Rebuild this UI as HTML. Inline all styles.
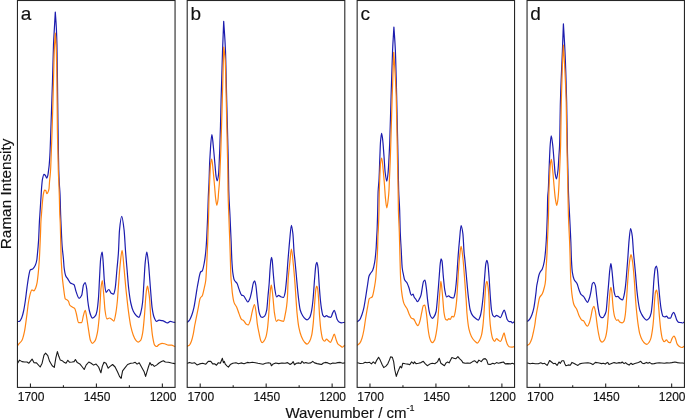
<!DOCTYPE html>
<html lang="en">
<head>
<meta charset="utf-8">
<title>Raman spectra</title>
<style>
html,body{margin:0;padding:0;background:#fff;}
body{width:685px;height:419px;overflow:hidden;font-family:"Liberation Sans",Arial,sans-serif;}
svg{display:block;}
</style>
</head>
<body>
<svg width="685" height="419" viewBox="0 0 685 419">
<rect width="685" height="419" fill="#fff"/>
<g fill="none" stroke-linejoin="round" stroke-linecap="round">
<g class="panel-a">
<path class="data" stroke="#1c1cae" stroke-width="1.2" d="M17.60 321.60 C18.23 321.50 18.87 321.48 19.50 321.30 C20.27 321.09 21.03 319.34 21.80 317.60 C22.40 316.24 23.00 313.72 23.60 311.00 C24.17 308.43 24.73 304.82 25.30 301.00 C25.87 297.18 26.43 291.67 27.00 287.60 C27.63 283.05 28.27 278.16 28.90 275.10 C29.33 273.00 29.77 270.34 30.20 270.00 C31.03 269.34 31.87 269.52 32.70 269.00 C33.53 268.48 34.37 267.29 35.20 265.60 C35.73 264.52 36.27 262.95 36.80 260.00 C36.93 259.26 37.07 257.72 37.20 256.40 C37.67 251.77 38.13 247.49 38.60 240.10 C38.87 235.88 39.13 226.83 39.40 222.00 C39.55 219.28 39.70 217.32 39.85 215.00 C40.20 209.59 40.55 204.34 40.90 198.90 C41.17 194.75 41.43 189.38 41.70 186.30 C41.97 183.22 42.23 180.31 42.50 179.00 C43.00 176.55 43.50 174.30 44.00 174.30 C44.47 174.30 44.93 174.95 45.40 175.50 C45.87 176.05 46.33 178.20 46.80 178.20 C47.13 178.20 47.47 176.81 47.80 175.50 C48.07 174.45 48.33 172.02 48.60 170.00 C48.80 168.49 49.00 167.08 49.20 165.00 C49.43 162.57 49.67 159.36 49.90 155.10 C50.20 149.62 50.50 139.37 50.80 131.00 C51.37 115.19 51.93 99.51 52.50 81.00 C52.83 70.11 53.17 53.21 53.50 45.00 C53.80 37.61 54.10 33.49 54.40 28.00 C54.70 22.51 55.00 17.33 55.30 12.00 C55.65 17.33 56.00 20.87 56.35 28.00 C56.55 32.07 56.75 36.83 56.95 45.00 C57.12 51.81 57.28 67.35 57.45 80.00 C57.65 95.18 57.85 115.85 58.05 130.00 C58.18 139.43 58.32 147.63 58.45 155.00 C58.55 160.53 58.65 166.66 58.75 170.00 C58.92 175.57 59.08 178.72 59.25 182.00 C59.52 187.25 59.78 189.08 60.05 195.00 C60.25 199.44 60.45 209.62 60.65 215.00 C60.75 217.69 60.85 219.80 60.95 222.00 C61.35 230.81 61.75 241.12 62.15 246.40 C62.58 252.12 63.02 254.09 63.45 259.00 C63.67 261.45 63.88 265.80 64.10 267.50 C64.63 271.68 65.17 274.45 65.70 275.70 C66.40 277.35 67.10 277.72 67.80 278.80 C68.67 280.13 69.53 282.36 70.40 283.00 C71.63 283.91 72.87 283.61 74.10 284.70 C74.73 285.26 75.37 289.64 76.00 291.40 C77.03 294.27 78.07 298.30 79.10 298.30 C79.97 298.30 80.83 296.97 81.70 295.20 C82.30 293.97 82.90 286.49 83.50 285.10 C84.07 283.79 84.63 282.60 85.20 282.60 C85.70 282.60 86.20 285.79 86.70 288.90 C87.07 291.18 87.43 297.99 87.80 301.00 C88.27 304.83 88.73 307.92 89.20 310.00 C89.83 312.82 90.47 314.98 91.10 316.30 C91.50 317.14 91.90 318.20 92.30 318.20 C93.37 318.20 94.43 317.15 95.50 315.70 C95.97 315.07 96.43 313.42 96.90 311.30 C97.43 308.88 97.97 304.14 98.50 297.70 C98.83 293.67 99.17 284.76 99.50 278.80 C99.90 271.65 100.30 261.25 100.70 258.50 C101.20 255.06 101.70 252.20 102.20 252.20 C102.53 252.20 102.87 258.46 103.20 262.60 C103.60 267.57 104.00 277.51 104.40 281.40 C104.93 286.59 105.47 292.40 106.00 292.40 C106.93 292.40 107.87 289.50 108.80 289.50 C109.63 289.50 110.47 292.79 111.30 293.30 C112.07 293.77 112.83 294.20 113.60 294.20 C114.10 294.20 114.60 291.50 115.10 288.90 C115.73 285.61 116.37 275.73 117.00 268.80 C117.47 263.70 117.93 259.91 118.40 253.00 C118.77 247.57 119.13 233.86 119.50 230.10 C120.23 222.58 120.97 216.30 121.70 216.30 C122.50 216.30 123.30 223.27 124.10 230.10 C124.60 234.37 125.10 245.42 125.60 252.00 C126.07 258.14 126.53 263.24 127.00 268.80 C127.53 275.15 128.07 282.97 128.60 287.70 C129.33 294.21 130.07 299.68 130.80 303.00 C131.63 306.77 132.47 309.62 133.30 311.30 C134.33 313.38 135.37 314.80 136.40 315.70 C137.23 316.43 138.07 317.30 138.90 317.30 C139.53 317.30 140.17 314.80 140.80 312.60 C141.40 310.51 142.00 307.29 142.60 302.20 C143.07 298.24 143.53 288.52 144.00 281.40 C144.40 275.30 144.80 266.35 145.20 262.60 C145.73 257.60 146.27 252.20 146.80 252.20 C147.33 252.20 147.87 258.02 148.40 262.60 C148.90 266.89 149.40 275.07 149.90 281.40 C150.33 286.88 150.77 292.99 151.20 298.00 C151.50 301.47 151.80 305.48 152.10 307.60 C152.73 312.08 153.37 315.32 154.00 317.00 C154.83 319.21 155.67 321.40 156.50 321.40 C157.33 321.40 158.17 320.10 159.00 320.10 C160.07 320.10 161.13 320.43 162.20 320.70 C163.03 320.91 163.87 321.25 164.70 321.60 C165.53 321.95 166.37 322.90 167.20 322.90 C168.23 322.90 169.27 321.40 170.30 321.40 C171.13 321.40 171.97 321.81 172.80 322.00 C173.43 322.14 174.07 322.27 174.70 322.40"/>
<path class="fit" stroke="#ff8412" stroke-width="1.2" d="M17.60 345.60 C18.03 345.03 18.47 344.44 18.90 343.90 C19.93 342.60 20.97 342.08 22.00 340.20 C22.83 338.69 23.67 335.31 24.50 331.40 C25.33 327.49 26.17 320.02 27.00 313.80 C27.50 310.07 28.00 304.98 28.50 302.00 C29.07 298.62 29.63 295.78 30.20 293.90 C30.73 292.13 31.27 289.80 31.80 289.80 C32.50 289.80 33.20 290.80 33.90 290.80 C34.53 290.80 35.17 289.12 35.80 287.60 C36.23 286.56 36.67 284.89 37.10 282.60 C37.50 280.48 37.90 276.50 38.30 272.60 C38.47 270.97 38.63 269.07 38.80 267.00 C38.97 264.93 39.13 262.65 39.30 260.00 C39.43 257.88 39.57 255.41 39.70 252.70 C39.97 247.29 40.23 240.88 40.50 233.80 C40.63 230.26 40.77 224.51 40.90 222.00 C41.10 218.23 41.30 216.60 41.50 214.00 C41.83 209.67 42.17 204.73 42.50 201.40 C42.80 198.40 43.10 195.31 43.40 193.90 C43.80 192.02 44.20 190.10 44.60 190.10 C45.00 190.10 45.40 190.25 45.80 190.50 C46.13 190.71 46.47 193.60 46.80 193.60 C47.13 193.60 47.47 193.03 47.80 192.50 C48.20 191.86 48.60 191.00 49.00 188.80 C49.17 187.88 49.33 183.94 49.50 182.00 C49.73 179.29 49.97 177.80 50.20 175.00 C50.37 173.00 50.53 170.79 50.70 167.70 C50.87 164.61 51.03 159.40 51.20 155.00 C51.50 147.07 51.80 139.09 52.10 130.00 C52.40 120.91 52.70 111.00 53.00 100.00 C53.17 93.89 53.33 86.47 53.50 80.00 C53.77 69.65 54.03 56.28 54.30 50.00 C54.63 42.15 54.97 38.80 55.30 33.20 C55.63 38.80 55.97 41.25 56.30 50.00 C56.50 55.25 56.70 66.53 56.90 80.00 C57.07 91.22 57.23 120.07 57.40 130.00 C57.60 141.91 57.80 145.82 58.00 155.00 C58.10 159.59 58.20 166.66 58.30 170.00 C58.47 175.57 58.63 177.84 58.80 182.00 C58.97 186.16 59.13 189.75 59.30 195.00 C59.47 200.25 59.63 211.00 59.80 215.00 C59.93 218.20 60.07 218.90 60.20 222.00 C60.37 225.88 60.53 233.68 60.70 240.00 C60.87 246.32 61.03 256.00 61.20 260.00 C61.33 263.20 61.47 264.59 61.60 267.00 C61.70 268.81 61.80 271.25 61.90 272.60 C62.43 279.80 62.97 283.57 63.50 287.60 C64.10 292.13 64.70 298.31 65.30 298.90 C65.93 299.52 66.57 299.44 67.20 299.90 C67.63 300.21 68.07 300.60 68.50 301.30 C68.90 301.94 69.30 304.45 69.70 305.00 C70.53 306.14 71.37 306.42 72.20 307.00 C73.07 307.60 73.93 307.64 74.80 308.60 C75.30 309.15 75.80 311.69 76.30 313.50 C77.03 316.16 77.77 322.60 78.50 322.60 C79.57 322.60 80.63 322.60 81.70 322.60 C82.30 322.60 82.90 317.05 83.50 315.10 C84.10 313.15 84.70 310.30 85.30 310.30 C85.77 310.30 86.23 314.90 86.70 317.60 C87.33 321.26 87.97 326.27 88.60 330.10 C89.20 333.73 89.80 338.68 90.40 340.20 C91.03 341.81 91.67 343.30 92.30 343.30 C93.13 343.30 93.97 342.31 94.80 341.20 C95.67 340.04 96.53 336.86 97.40 332.60 C98.03 329.49 98.67 323.38 99.30 316.00 C99.63 312.11 99.97 305.53 100.30 300.00 C100.53 296.13 100.77 290.12 101.00 288.00 C101.43 284.06 101.87 280.50 102.30 280.50 C102.67 280.50 103.03 287.16 103.40 291.00 C103.63 293.44 103.87 296.24 104.10 299.00 C104.40 302.55 104.70 307.96 105.00 310.10 C105.63 314.61 106.27 318.90 106.90 318.90 C107.73 318.90 108.57 318.00 109.40 318.00 C110.23 318.00 111.07 318.91 111.90 319.50 C112.53 319.95 113.17 321.10 113.80 321.10 C114.43 321.10 115.07 317.08 115.70 313.80 C116.23 311.04 116.77 306.84 117.30 301.50 C117.63 298.16 117.97 292.38 118.30 288.00 C118.90 280.12 119.50 270.74 120.10 265.10 C120.77 258.83 121.43 250.30 122.10 250.30 C122.77 250.30 123.43 262.05 124.10 268.80 C124.67 274.54 125.23 282.00 125.80 287.70 C126.13 291.05 126.47 293.99 126.80 297.00 C127.30 301.51 127.80 306.32 128.30 310.10 C129.13 316.40 129.97 322.59 130.80 326.40 C131.63 330.21 132.47 333.07 133.30 335.20 C134.13 337.33 134.97 339.28 135.80 340.20 C136.63 341.12 137.47 342.10 138.30 342.10 C139.13 342.10 139.97 341.30 140.80 340.20 C141.43 339.37 142.07 336.28 142.70 332.70 C143.33 329.12 143.97 321.37 144.60 313.80 C144.97 309.42 145.33 302.22 145.70 298.00 C145.97 294.93 146.23 291.74 146.50 290.20 C146.83 288.28 147.17 286.20 147.50 286.20 C147.93 286.20 148.37 289.98 148.80 292.70 C149.10 294.58 149.40 296.77 149.70 300.00 C150.10 304.30 150.50 315.22 150.90 320.10 C151.53 327.82 152.17 334.07 152.80 337.70 C153.40 341.14 154.00 344.49 154.60 345.20 C155.23 345.95 155.87 346.50 156.50 346.50 C157.33 346.50 158.17 345.05 159.00 344.60 C160.07 344.03 161.13 343.30 162.20 343.30 C163.23 343.30 164.27 343.71 165.30 344.00 C166.33 344.29 167.37 345.20 168.40 345.20 C169.47 345.20 170.53 345.20 171.60 345.20 C172.63 345.20 173.67 346.07 174.70 346.50"/>
<path class="residual" stroke="#1a1a1a" stroke-width="1.1" d="M17.6 363.2 L19.5 360.1 L22.0 361.6 L24.5 362.0 L27.0 362.0 L28.9 363.2 L32.1 359.1 L33.9 362.6 L36.5 362.9 L40.2 367.0 L42.1 363.2 L44.0 355.1 L45.6 353.2 L47.8 355.7 L49.6 361.3 L52.2 365.7 L54.3 367.4 L55.9 357.6 L57.4 351.6 L58.8 356.3 L60.3 360.1 L62.2 360.7 L64.1 362.3 L66.0 363.2 L67.8 360.3 L69.7 362.3 L72.2 362.0 L74.1 361.6 L75.4 359.5 L77.3 362.6 L79.8 363.9 L82.3 367.0 L84.2 369.5 L86.1 365.1 L88.8 362.0 L91.1 363.2 L93.6 365.1 L96.1 364.1 L98.6 367.0 L100.9 372.8 L102.3 366.4 L104.0 362.3 L106.0 363.2 L108.2 368.2 L110.1 366.4 L112.6 364.5 L115.1 367.0 L117.6 372.0 L119.5 376.4 L121.1 378.3 L122.6 370.8 L125.1 367.6 L127.6 364.5 L130.8 363.2 L133.3 363.0 L135.2 362.3 L137.1 364.1 L139.2 362.8 L141.5 367.0 L144.0 371.4 L145.6 376.4 L147.1 371.4 L148.4 367.0 L149.9 362.6 L151.5 365.1 L152.7 364.5 L154.3 366.4 L156.5 365.1 L159.0 363.0 L161.5 361.6 L163.4 360.7 L165.3 362.0 L168.4 362.3 L171.6 363.0 L174.7 363.6"/>
</g>
<g class="panel-b">
<path class="data" stroke="#1c1cae" stroke-width="1.2" d="M187.60 322.10 C188.23 321.47 188.87 321.07 189.50 320.20 C190.33 319.06 191.17 316.86 192.00 314.50 C192.63 312.71 193.27 310.43 193.90 307.60 C194.73 303.87 195.57 297.71 196.40 292.60 C196.70 290.76 197.00 288.74 197.30 287.00 C197.73 284.49 198.17 282.27 198.60 280.00 C198.83 278.78 199.07 277.37 199.30 276.40 C199.73 274.59 200.17 272.52 200.60 272.00 C201.17 271.32 201.73 271.47 202.30 270.80 C202.97 270.01 203.63 266.19 204.30 262.60 C204.80 259.91 205.30 256.37 205.80 251.30 C206.07 248.60 206.33 244.58 206.60 240.00 C206.97 233.70 207.33 224.72 207.70 215.10 C207.90 209.85 208.10 202.19 208.30 197.00 C208.40 194.41 208.50 192.06 208.60 190.00 C208.73 187.25 208.87 185.73 209.00 182.70 C209.20 178.16 209.40 168.32 209.60 163.80 C209.87 157.77 210.13 154.51 210.40 150.00 C210.50 148.31 210.60 146.22 210.70 145.00 C211.10 140.10 211.50 134.50 211.90 134.50 C212.33 134.50 212.77 140.98 213.20 145.00 C213.77 150.25 214.33 157.70 214.90 163.80 C215.30 168.10 215.70 173.95 216.10 176.40 C216.43 178.44 216.77 180.80 217.10 180.80 C217.60 180.80 218.10 177.94 218.60 173.90 C218.83 172.01 219.07 165.10 219.30 160.00 C219.47 156.36 219.63 152.58 219.80 148.00 C220.03 141.58 220.27 133.60 220.50 125.00 C220.70 117.63 220.90 107.62 221.10 100.00 C221.57 82.21 222.03 65.62 222.50 52.00 C222.90 40.32 223.30 31.53 223.70 21.30 C224.28 30.87 224.87 36.15 225.45 50.00 C225.88 60.29 226.32 85.01 226.75 102.00 C227.18 118.99 227.62 133.78 228.05 152.00 C228.18 157.61 228.32 162.77 228.45 170.00 C228.55 175.42 228.65 186.44 228.75 190.00 C229.15 204.22 229.55 206.44 229.95 215.10 C230.35 223.76 230.75 232.33 231.15 242.00 C231.38 247.64 231.62 255.94 231.85 260.10 C232.17 265.74 232.48 270.36 232.80 272.70 C233.30 276.39 233.80 278.94 234.30 280.00 C235.23 281.97 236.17 281.82 237.10 283.50 C237.77 284.70 238.43 287.68 239.10 289.40 C239.93 291.55 240.77 294.65 241.60 295.10 C242.23 295.44 242.87 295.38 243.50 295.70 C244.33 296.12 245.17 298.33 246.00 299.50 C246.63 300.39 247.27 302.00 247.90 302.00 C248.53 302.00 249.17 300.30 249.80 298.80 C250.43 297.30 251.07 294.14 251.70 291.30 C252.23 288.91 252.77 284.43 253.30 283.10 C253.73 282.02 254.17 280.90 254.60 280.90 C255.00 280.90 255.40 283.04 255.80 285.00 C256.30 287.45 256.80 294.72 257.30 298.80 C257.93 303.97 258.57 310.38 259.20 312.60 C259.83 314.82 260.47 316.65 261.10 317.00 C261.50 317.22 261.90 317.40 262.30 317.40 C263.13 317.40 263.97 316.71 264.80 315.80 C265.43 315.11 266.07 313.19 266.70 310.10 C267.13 307.99 267.57 300.70 268.00 296.00 C268.40 291.66 268.80 288.27 269.20 283.00 C269.47 279.49 269.73 273.55 270.00 270.00 C270.27 266.45 270.53 262.87 270.80 261.00 C271.03 259.37 271.27 257.40 271.50 257.40 C271.73 257.40 271.97 258.70 272.20 260.00 C272.53 261.85 272.87 268.81 273.20 272.60 C273.73 278.66 274.27 285.55 274.80 288.90 C275.40 292.67 276.00 297.00 276.60 297.00 C277.27 297.00 277.93 295.40 278.60 295.40 C279.30 295.40 280.00 296.48 280.70 296.70 C281.67 297.01 282.63 297.30 283.60 297.30 C284.10 297.30 284.60 294.94 285.10 292.60 C285.60 290.26 286.10 284.27 286.60 278.80 C287.07 273.69 287.53 265.92 288.00 260.00 C288.20 257.46 288.40 255.07 288.60 252.70 C288.97 248.36 289.33 243.76 289.70 240.10 C290.27 234.44 290.83 225.30 291.40 225.30 C291.90 225.30 292.40 229.56 292.90 233.80 C293.30 237.19 293.70 248.16 294.10 252.70 C294.37 255.73 294.63 257.38 294.90 260.00 C295.40 264.92 295.90 270.94 296.40 276.30 C297.03 283.09 297.67 290.99 298.30 296.40 C298.93 301.81 299.57 307.76 300.20 310.00 C301.03 312.95 301.87 314.36 302.70 315.70 C303.53 317.04 304.37 318.20 305.20 318.80 C305.83 319.26 306.47 319.80 307.10 319.80 C307.93 319.80 308.77 318.79 309.60 317.60 C310.23 316.70 310.87 314.26 311.50 311.30 C312.00 308.96 312.50 304.79 313.00 300.00 C313.53 294.89 314.07 285.06 314.60 278.80 C315.03 273.71 315.47 266.82 315.90 265.00 C316.23 263.60 316.57 262.30 316.90 262.30 C317.27 262.30 317.63 264.90 318.00 267.50 C318.40 270.34 318.80 279.76 319.20 285.10 C319.63 290.89 320.07 296.91 320.50 301.00 C320.83 304.14 321.17 306.79 321.50 308.80 C321.93 311.42 322.37 314.36 322.80 315.10 C323.40 316.13 324.00 316.90 324.60 316.90 C325.23 316.90 325.87 315.70 326.50 315.70 C327.13 315.70 327.77 316.73 328.40 316.90 C329.23 317.12 330.07 317.30 330.90 317.30 C331.53 317.30 332.17 313.79 332.80 312.60 C333.30 311.66 333.80 310.30 334.30 310.30 C334.73 310.30 335.17 312.48 335.60 313.80 C336.13 315.43 336.67 318.46 337.20 319.50 C337.83 320.73 338.47 321.66 339.10 322.00 C339.93 322.44 340.77 322.80 341.60 322.80 C342.57 322.80 343.53 322.47 344.50 322.30"/>
<path class="fit" stroke="#ff8412" stroke-width="1.2" d="M187.60 346.10 C188.23 345.77 188.87 345.63 189.50 345.10 C190.13 344.57 190.77 342.98 191.40 341.30 C192.03 339.62 192.67 336.81 193.30 333.80 C193.80 331.42 194.30 327.62 194.80 325.00 C195.13 323.25 195.47 321.83 195.80 320.20 C196.63 316.12 197.47 311.76 198.30 307.60 C198.93 304.44 199.57 299.43 200.20 298.20 C200.90 296.84 201.60 296.98 202.30 295.70 C203.00 294.42 203.70 290.50 204.40 287.30 C204.87 285.17 205.33 283.88 205.80 280.00 C205.97 278.62 206.13 275.52 206.30 272.70 C206.60 267.62 206.90 260.50 207.20 253.80 C207.37 250.08 207.53 246.35 207.70 242.00 C208.00 234.16 208.30 226.08 208.60 215.00 C208.73 210.07 208.87 201.24 209.00 197.00 C209.20 190.64 209.40 186.96 209.60 182.70 C209.93 175.60 210.27 166.15 210.60 163.80 C210.97 161.22 211.33 159.10 211.70 159.10 C212.17 159.10 212.63 165.85 213.10 170.10 C213.60 174.65 214.10 180.78 214.60 186.40 C214.93 190.15 215.27 195.36 215.60 198.00 C216.00 201.17 216.40 205.10 216.80 205.10 C217.23 205.10 217.67 202.13 218.10 198.80 C218.27 197.52 218.43 194.10 218.60 192.00 C218.87 188.64 219.13 186.73 219.40 182.70 C219.70 178.17 220.00 170.03 220.30 163.00 C220.50 158.31 220.70 153.66 220.90 148.00 C221.37 134.78 221.83 116.79 222.30 100.00 C222.77 83.21 223.23 64.67 223.70 47.00 C224.20 51.33 224.70 52.70 225.20 60.00 C225.57 65.35 225.93 86.78 226.30 102.00 C226.67 117.22 227.03 135.43 227.40 152.00 C227.53 158.03 227.67 161.36 227.80 170.00 C227.87 174.32 227.93 186.45 228.00 190.00 C228.27 204.18 228.53 207.25 228.80 215.00 C229.13 224.68 229.47 232.54 229.80 242.00 C229.93 245.78 230.07 249.71 230.20 253.80 C230.43 260.96 230.67 272.29 230.90 276.40 C231.20 281.68 231.50 283.56 231.80 287.00 C231.97 288.91 232.13 291.28 232.30 292.60 C232.90 297.36 233.50 300.95 234.10 302.60 C234.93 304.89 235.77 305.21 236.60 307.00 C237.43 308.79 238.27 311.84 239.10 313.90 C239.93 315.96 240.77 318.87 241.60 319.50 C242.23 319.98 242.87 319.96 243.50 320.40 C244.33 320.98 245.17 323.35 246.00 323.90 C246.77 324.40 247.53 324.90 248.30 324.90 C249.00 324.90 249.70 322.32 250.40 320.20 C251.03 318.28 251.67 313.78 252.30 311.40 C253.03 308.64 253.77 304.50 254.50 304.50 C255.03 304.50 255.57 309.04 256.10 312.60 C256.50 315.27 256.90 321.10 257.30 323.90 C257.60 326.00 257.90 327.44 258.20 329.00 C258.53 330.74 258.87 332.28 259.20 333.80 C259.73 336.23 260.27 339.56 260.80 340.70 C261.23 341.63 261.67 342.60 262.10 342.60 C262.80 342.60 263.50 341.62 264.20 340.70 C264.83 339.87 265.47 338.40 266.10 336.30 C266.50 334.98 266.90 332.77 267.30 330.00 C267.67 327.46 268.03 323.42 268.40 319.00 C268.83 313.78 269.27 305.02 269.70 299.00 C269.93 295.76 270.17 291.82 270.40 290.00 C270.70 287.67 271.00 285.10 271.30 285.10 C271.67 285.10 272.03 289.14 272.40 292.00 C272.67 294.08 272.93 297.27 273.20 300.00 C273.60 304.09 274.00 309.97 274.40 312.60 C275.03 316.76 275.67 321.30 276.30 321.30 C276.93 321.30 277.57 319.80 278.20 319.80 C279.03 319.80 279.87 320.48 280.70 320.70 C281.67 320.96 282.63 321.30 283.60 321.30 C284.10 321.30 284.60 317.52 285.10 315.10 C285.60 312.68 286.10 310.16 286.60 306.30 C286.87 304.24 287.13 301.86 287.40 298.00 C287.67 294.14 287.93 282.73 288.20 278.80 C288.70 271.43 289.20 268.44 289.70 263.80 C290.27 258.54 290.83 249.10 291.40 249.10 C292.07 249.10 292.73 258.63 293.40 265.00 C293.97 270.42 294.53 277.50 295.10 285.10 C295.43 289.57 295.77 295.40 296.10 300.20 C296.40 304.52 296.70 309.49 297.00 312.60 C297.63 319.17 298.27 324.46 298.90 327.60 C299.73 331.73 300.57 334.36 301.40 336.40 C302.43 338.92 303.47 340.95 304.50 342.10 C305.37 343.06 306.23 344.20 307.10 344.20 C307.93 344.20 308.77 342.77 309.60 341.40 C310.30 340.25 311.00 338.27 311.70 335.20 C312.23 332.86 312.77 328.07 313.30 322.60 C313.73 318.15 314.17 309.56 314.60 304.00 C315.03 298.44 315.47 291.14 315.90 288.90 C316.17 287.52 316.43 286.10 316.70 286.10 C317.03 286.10 317.37 287.38 317.70 288.90 C318.03 290.42 318.37 296.27 318.70 301.00 C319.00 305.25 319.30 312.32 319.60 316.30 C320.03 322.04 320.47 327.11 320.90 330.10 C321.53 334.47 322.17 338.50 322.80 339.50 C323.40 340.45 324.00 341.20 324.60 341.20 C325.23 341.20 325.87 339.20 326.50 339.20 C327.13 339.20 327.77 340.27 328.40 340.80 C329.03 341.33 329.67 342.40 330.30 342.40 C330.93 342.40 331.57 340.19 332.20 338.90 C332.90 337.47 333.60 334.10 334.30 334.10 C334.83 334.10 335.37 337.40 335.90 338.90 C336.53 340.68 337.17 343.13 337.80 343.90 C338.63 344.91 339.47 345.20 340.30 345.80 C340.93 346.25 341.57 347.10 342.20 347.10 C342.97 347.10 343.73 345.97 344.50 345.40"/>
<path class="residual" stroke="#1a1a1a" stroke-width="1.1" d="M187.6 363.3 L189.5 362.4 L192.0 363.3 L194.5 362.7 L197.0 364.9 L199.6 363.9 L202.7 363.3 L205.8 364.2 L208.3 361.4 L210.8 361.4 L212.7 363.9 L214.6 363.7 L216.5 365.2 L218.4 362.7 L220.3 363.3 L222.4 358.3 L223.4 362.7 L224.3 361.4 L225.3 364.2 L226.9 365.8 L228.4 367.1 L230.3 364.6 L232.8 363.3 L236.0 362.7 L238.5 363.7 L241.0 362.9 L244.1 363.7 L247.3 362.4 L249.8 362.7 L252.3 362.3 L255.4 362.7 L257.9 363.3 L260.4 363.7 L263.0 364.2 L265.5 363.3 L268.6 362.7 L270.5 363.3 L271.4 365.8 L273.2 363.9 L275.7 363.0 L278.8 363.6 L281.9 363.0 L285.1 363.2 L287.6 362.6 L290.1 364.5 L292.0 363.2 L293.2 361.6 L294.5 364.7 L296.4 363.2 L298.9 362.9 L300.8 363.6 L302.0 361.3 L303.9 363.2 L305.8 362.6 L308.3 363.2 L310.8 362.9 L312.7 361.3 L314.6 362.9 L317.1 363.6 L319.6 364.1 L321.5 364.5 L323.4 363.0 L325.3 362.4 L327.8 362.9 L330.3 363.9 L332.8 363.0 L335.3 363.2 L337.8 362.6 L340.3 362.4 L342.8 363.2 L344.5 362.9"/>
</g>
<g class="panel-c">
<path class="data" stroke="#1c1cae" stroke-width="1.2" d="M357.60 321.50 C358.33 320.87 359.07 320.52 359.80 319.60 C360.53 318.68 361.27 316.59 362.00 314.50 C362.63 312.70 363.27 310.46 363.90 307.60 C364.53 304.74 365.17 300.23 365.80 296.30 C366.43 292.37 367.07 288.02 367.70 284.00 C368.10 281.46 368.50 277.69 368.90 276.50 C369.47 274.81 370.03 274.24 370.60 273.30 C371.30 272.14 372.00 271.72 372.70 270.20 C373.33 268.82 373.97 266.19 374.60 262.60 C375.10 259.77 375.60 255.41 376.10 248.80 C376.30 246.16 376.50 240.69 376.70 237.00 C376.83 234.54 376.97 232.99 377.10 230.00 C377.30 225.51 377.50 217.83 377.70 210.10 C377.83 204.94 377.97 194.95 378.10 192.00 C378.40 185.36 378.70 185.36 379.00 180.00 C379.27 175.24 379.53 165.51 379.80 158.80 C380.03 152.93 380.27 144.88 380.50 142.00 C380.87 137.47 381.23 133.30 381.60 133.30 C381.97 133.30 382.33 137.02 382.70 140.00 C383.13 143.52 383.57 150.65 384.00 156.30 C384.40 161.52 384.80 169.45 385.20 172.60 C385.73 176.79 386.27 181.20 386.80 181.20 C387.23 181.20 387.67 176.77 388.10 172.60 C388.47 169.07 388.83 161.13 389.20 154.00 C389.37 150.76 389.53 147.29 389.70 143.00 C390.17 130.99 390.63 110.97 391.10 96.00 C391.60 79.96 392.10 61.15 392.60 50.00 C393.03 40.34 393.47 34.67 393.90 27.00 C394.38 34.67 394.87 39.34 395.35 50.00 C395.78 59.56 396.22 78.85 396.65 96.00 C397.02 110.51 397.38 127.23 397.75 145.00 C397.92 153.08 398.08 162.74 398.25 171.00 C398.38 177.61 398.52 186.01 398.65 190.00 C398.98 199.96 399.32 201.16 399.65 210.00 C399.85 215.31 400.05 226.94 400.25 232.00 C400.55 239.59 400.85 243.30 401.15 248.80 C401.50 255.22 401.85 264.65 402.20 267.70 C402.63 271.48 403.07 272.85 403.50 275.00 C403.83 276.66 404.17 278.74 404.50 279.50 C405.40 281.56 406.30 281.55 407.20 283.20 C407.83 284.36 408.47 286.35 409.10 288.20 C409.80 290.24 410.50 295.10 411.20 295.10 C411.83 295.10 412.47 294.20 413.10 294.20 C413.43 294.20 413.77 296.38 414.10 297.00 C414.73 298.18 415.37 298.62 416.00 299.50 C416.50 300.20 417.00 301.70 417.50 301.70 C418.13 301.70 418.77 300.06 419.40 298.90 C419.93 297.92 420.47 296.92 421.00 295.10 C421.43 293.62 421.87 289.94 422.30 287.60 C422.70 285.44 423.10 282.14 423.50 281.50 C423.97 280.75 424.43 280.20 424.90 280.20 C425.37 280.20 425.83 284.41 426.30 287.60 C426.73 290.57 427.17 296.55 427.60 300.10 C428.13 304.47 428.67 308.86 429.20 311.40 C429.60 313.30 430.00 315.00 430.40 315.80 C431.03 317.07 431.67 318.30 432.30 318.30 C432.93 318.30 433.57 317.31 434.20 316.40 C434.83 315.49 435.47 314.15 436.10 311.50 C436.57 309.54 437.03 303.02 437.50 298.00 C437.83 294.41 438.17 290.21 438.50 286.00 C438.80 282.21 439.10 277.87 439.40 274.00 C439.67 270.56 439.93 266.09 440.20 264.00 C440.50 261.64 440.80 258.90 441.10 258.90 C441.40 258.90 441.70 259.87 442.00 261.00 C442.40 262.51 442.80 270.91 443.20 275.10 C443.73 280.69 444.27 287.17 444.80 290.10 C445.40 293.39 446.00 297.00 446.60 297.00 C447.27 297.00 447.93 295.80 448.60 295.80 C449.30 295.80 450.00 297.17 450.70 297.40 C451.67 297.72 452.63 298.00 453.60 298.00 C454.10 298.00 454.60 295.19 455.10 292.60 C455.60 290.01 456.10 284.56 456.60 278.80 C456.93 274.96 457.27 268.91 457.60 264.00 C457.80 261.05 458.00 257.83 458.20 255.20 C458.63 249.50 459.07 244.51 459.50 240.10 C460.03 234.67 460.57 225.70 461.10 225.70 C461.70 225.70 462.30 229.44 462.90 233.80 C463.30 236.71 463.70 248.16 464.10 252.70 C464.37 255.73 464.63 257.38 464.90 260.00 C465.40 264.92 465.90 270.94 466.40 276.30 C467.03 283.09 467.67 290.99 468.30 296.40 C468.93 301.81 469.57 307.76 470.20 310.00 C471.03 312.95 471.87 314.58 472.70 315.70 C473.73 317.09 474.77 317.85 475.80 318.60 C476.63 319.20 477.47 320.10 478.30 320.10 C478.93 320.10 479.57 318.14 480.20 316.30 C480.70 314.85 481.20 311.95 481.70 308.80 C482.20 305.65 482.70 301.15 483.20 296.00 C483.73 290.51 484.27 281.53 484.80 275.10 C485.13 271.08 485.47 265.43 485.80 263.80 C486.17 262.00 486.53 260.40 486.90 260.40 C487.23 260.40 487.57 262.07 487.90 263.80 C488.27 265.70 488.63 271.55 489.00 276.30 C489.47 282.35 489.93 291.71 490.40 297.70 C490.77 302.41 491.13 307.87 491.50 310.00 C492.00 312.91 492.50 315.07 493.00 315.70 C493.53 316.37 494.07 316.90 494.60 316.90 C495.23 316.90 495.87 315.30 496.50 315.30 C497.13 315.30 497.77 315.94 498.40 316.30 C499.10 316.70 499.80 317.60 500.50 317.60 C501.17 317.60 501.83 314.51 502.50 313.20 C503.10 312.02 503.70 310.00 504.30 310.00 C504.73 310.00 505.17 312.41 505.60 313.80 C506.13 315.51 506.67 318.59 507.20 319.50 C507.83 320.58 508.47 321.60 509.10 321.60 C509.73 321.60 510.37 321.60 511.00 321.60 C511.53 321.60 512.07 323.00 512.60 323.00 C513.13 323.00 513.67 322.07 514.20 321.60"/>
<path class="fit" stroke="#ff8412" stroke-width="1.2" d="M357.60 345.10 C358.33 344.47 359.07 344.12 359.80 343.20 C360.53 342.28 361.27 340.40 362.00 338.20 C362.63 336.30 363.27 333.35 363.90 330.00 C364.40 327.36 364.90 323.15 365.40 320.00 C366.17 315.17 366.93 310.47 367.70 306.40 C368.23 303.57 368.77 299.19 369.30 298.60 C370.23 297.57 371.17 297.95 372.10 297.00 C372.93 296.15 373.77 290.83 374.60 286.30 C375.00 284.12 375.40 281.89 375.80 278.00 C376.03 275.73 376.27 271.38 376.50 267.70 C376.87 261.92 377.23 258.28 377.60 248.80 C377.70 246.22 377.80 239.47 377.90 237.00 C378.03 233.71 378.17 232.83 378.30 230.00 C378.53 225.05 378.77 219.57 379.00 210.10 C379.10 206.04 379.20 196.07 379.30 192.00 C379.43 186.57 379.57 183.22 379.70 180.00 C380.00 172.74 380.30 164.63 380.60 162.60 C380.97 160.12 381.33 158.20 381.70 158.20 C382.17 158.20 382.63 164.59 383.10 168.90 C383.60 173.52 384.10 180.09 384.60 186.50 C384.87 189.92 385.13 194.96 385.40 197.60 C385.87 202.22 386.33 207.90 386.80 207.90 C387.33 207.90 387.87 202.39 388.40 197.60 C388.60 195.80 388.80 193.38 389.00 190.00 C389.17 187.19 389.33 181.72 389.50 177.70 C389.77 171.26 390.03 166.03 390.30 158.80 C390.50 153.38 390.70 146.48 390.90 140.00 C391.33 125.97 391.77 109.59 392.20 96.00 C392.70 80.32 393.20 66.87 393.70 52.30 C394.20 59.87 394.70 66.11 395.20 75.00 C395.53 80.93 395.87 86.14 396.20 96.00 C396.50 104.88 396.80 124.80 397.10 140.00 C397.30 150.13 397.50 161.59 397.70 171.40 C397.83 177.94 397.97 182.62 398.10 190.00 C398.20 195.54 398.30 206.23 398.40 210.10 C398.70 221.71 399.00 222.92 399.30 232.00 C399.50 238.05 399.70 248.01 399.90 255.10 C400.13 263.37 400.37 273.48 400.60 278.00 C400.93 284.46 401.27 288.70 401.60 291.30 C402.43 297.81 403.27 301.83 404.10 303.90 C405.13 306.47 406.17 306.79 407.20 308.90 C407.83 310.19 408.47 312.55 409.10 313.90 C409.93 315.67 410.77 317.87 411.60 318.30 C412.23 318.63 412.87 318.57 413.50 318.90 C414.33 319.33 415.17 322.08 416.00 323.30 C416.63 324.22 417.27 325.70 417.90 325.70 C418.53 325.70 419.17 323.40 419.80 321.50 C420.43 319.60 421.07 315.53 421.70 312.70 C422.23 310.32 422.77 306.25 423.30 305.80 C423.80 305.38 424.30 305.10 424.80 305.10 C425.23 305.10 425.67 308.73 426.10 311.40 C426.47 313.66 426.83 317.16 427.20 320.50 C427.43 322.63 427.67 325.70 427.90 327.50 C428.47 331.88 429.03 335.53 429.60 337.60 C430.10 339.43 430.60 340.98 431.10 341.60 C431.50 342.10 431.90 342.60 432.30 342.60 C433.07 342.60 433.83 341.48 434.60 340.10 C435.10 339.20 435.60 336.43 436.10 333.80 C436.57 331.34 437.03 328.28 437.50 324.00 C437.80 321.25 438.10 316.81 438.40 312.70 C438.73 308.14 439.07 302.00 439.40 297.60 C439.70 293.64 440.00 290.13 440.30 287.00 C440.50 284.91 440.70 281.30 440.90 281.30 C441.33 281.30 441.77 287.78 442.20 292.00 C442.43 294.27 442.67 297.33 442.90 300.00 C443.27 304.19 443.63 310.32 444.00 312.60 C444.57 316.12 445.13 319.11 445.70 319.50 C446.23 319.86 446.77 320.10 447.30 320.10 C447.80 320.10 448.30 318.60 448.80 318.60 C449.30 318.60 449.80 319.50 450.30 319.50 C450.83 319.50 451.37 316.30 451.90 316.30 C452.53 316.30 453.17 316.90 453.80 316.90 C454.30 316.90 454.80 313.86 455.30 311.30 C455.73 309.08 456.17 305.61 456.60 301.00 C456.87 298.17 457.13 293.29 457.40 289.00 C457.67 284.71 457.93 279.14 458.20 275.10 C458.63 268.54 459.07 262.09 459.50 258.00 C460.03 252.96 460.57 246.40 461.10 246.40 C461.70 246.40 462.30 252.95 462.90 258.00 C463.57 263.61 464.23 273.90 464.90 282.60 C465.33 288.25 465.77 293.92 466.20 300.50 C466.47 304.55 466.73 310.79 467.00 313.80 C467.63 320.95 468.27 326.08 468.90 328.90 C469.73 332.61 470.57 334.77 471.40 336.40 C472.43 338.42 473.47 339.75 474.50 340.80 C475.47 341.78 476.43 343.10 477.40 343.10 C478.13 343.10 478.87 341.50 479.60 340.20 C480.23 339.08 480.87 337.64 481.50 335.20 C482.00 333.27 482.50 329.54 483.00 325.10 C483.40 321.55 483.80 315.88 484.20 310.00 C484.43 306.57 484.67 301.66 484.90 298.00 C485.20 293.30 485.50 286.80 485.80 285.10 C486.17 283.02 486.53 281.30 486.90 281.30 C487.27 281.30 487.63 283.90 488.00 286.40 C488.33 288.68 488.67 292.96 489.00 299.00 C489.20 302.63 489.40 313.01 489.60 316.30 C490.03 323.43 490.47 327.24 490.90 330.10 C491.53 334.29 492.17 337.55 492.80 338.90 C493.40 340.18 494.00 341.40 494.60 341.40 C495.23 341.40 495.87 338.70 496.50 338.70 C497.13 338.70 497.77 339.78 498.40 340.20 C499.10 340.67 499.80 341.40 500.50 341.40 C501.17 341.40 501.83 338.58 502.50 337.00 C503.03 335.73 503.57 332.90 504.10 332.90 C504.50 332.90 504.90 336.25 505.30 337.70 C505.93 339.99 506.57 342.61 507.20 343.90 C507.83 345.19 508.47 346.51 509.10 346.70 C509.93 346.95 510.77 347.10 511.60 347.10 C512.47 347.10 513.33 346.83 514.20 346.70"/>
<path class="residual" stroke="#1a1a1a" stroke-width="1.1" d="M357.6 362.8 L360.1 363.5 L363.3 363.2 L365.2 362.3 L367.0 362.8 L369.6 362.3 L371.4 363.8 L373.3 361.9 L375.2 363.6 L376.8 360.1 L378.6 357.3 L380.2 360.1 L382.1 364.5 L383.7 367.6 L385.9 366.1 L387.8 363.8 L389.4 360.1 L390.6 356.9 L392.4 357.3 L393.7 361.9 L394.7 369.5 L396.3 376.4 L397.8 372.0 L399.1 368.9 L400.3 366.3 L401.6 367.9 L402.8 363.2 L405.3 363.8 L407.9 364.1 L409.7 364.7 L411.6 361.9 L413.5 363.6 L414.5 361.9 L416.0 363.6 L418.5 363.2 L421.0 362.6 L423.3 361.3 L425.4 363.8 L427.3 365.7 L429.8 364.1 L432.3 363.2 L434.8 363.8 L437.4 361.9 L439.2 358.2 L440.9 363.2 L444.4 365.7 L446.1 362.9 L447.6 362.0 L449.1 362.9 L450.7 359.8 L451.9 357.6 L453.8 358.2 L455.7 358.8 L457.9 356.6 L459.5 358.6 L461.4 360.3 L462.9 362.6 L465.1 363.2 L467.6 363.0 L470.1 363.2 L472.7 361.6 L474.6 360.7 L477.1 362.9 L478.9 360.1 L481.2 361.6 L483.3 359.1 L485.2 358.6 L486.7 360.1 L488.0 364.1 L490.2 364.5 L492.8 363.2 L494.6 363.9 L496.5 362.6 L498.4 363.2 L500.9 362.6 L503.4 362.0 L505.3 363.9 L507.8 363.6 L510.3 363.9 L512.2 363.2 L514.1 364.1"/>
</g>
<g class="panel-d">
<path class="data" stroke="#1c1cae" stroke-width="1.2" d="M527.60 321.20 C528.23 320.63 528.87 320.27 529.50 319.50 C530.33 318.49 531.17 316.68 532.00 314.50 C532.63 312.84 533.27 310.63 533.90 307.60 C534.60 304.25 535.30 298.42 536.00 292.60 C536.23 290.66 536.47 287.56 536.70 286.00 C537.07 283.55 537.43 282.30 537.80 280.50 C538.17 278.70 538.53 276.41 538.90 275.20 C539.33 273.78 539.77 272.82 540.20 272.00 C540.90 270.68 541.60 270.39 542.30 268.90 C542.97 267.48 543.63 264.99 544.30 261.40 C544.73 259.06 545.17 254.92 545.60 250.10 C545.83 247.50 546.07 244.20 546.30 240.00 C546.63 234.00 546.97 226.27 547.30 215.10 C547.43 210.63 547.57 199.57 547.70 197.00 C547.90 193.14 548.10 193.28 548.30 190.00 C548.40 188.36 548.50 185.24 548.60 182.70 C548.83 176.77 549.07 169.33 549.30 163.80 C549.60 156.70 549.90 148.86 550.20 145.00 C550.53 140.71 550.87 135.80 551.20 135.80 C551.70 135.80 552.20 140.96 552.70 145.00 C553.13 148.50 553.57 155.09 554.00 160.10 C554.40 164.72 554.80 171.58 555.20 173.90 C555.63 176.41 556.07 178.90 556.50 178.90 C557.00 178.90 557.50 174.45 558.00 170.10 C558.33 167.20 558.67 160.30 559.00 155.00 C559.20 151.82 559.40 149.96 559.60 145.00 C559.87 138.38 560.13 111.72 560.40 102.00 C561.07 77.70 561.73 68.58 562.40 51.00 C562.73 42.21 563.07 32.93 563.40 23.90 C563.92 32.93 564.43 39.63 564.95 51.00 C565.52 63.47 566.08 78.02 566.65 102.00 C566.92 113.29 567.18 139.13 567.45 152.00 C567.65 161.66 567.85 168.00 568.05 176.00 C568.18 181.33 568.32 188.15 568.45 192.00 C568.82 202.59 569.18 207.36 569.55 215.00 C569.98 224.03 570.42 231.09 570.85 242.00 C571.05 247.03 571.25 256.30 571.45 260.10 C571.77 266.11 572.08 270.65 572.40 272.70 C572.97 276.37 573.53 278.29 574.10 279.50 C575.07 281.57 576.03 281.62 577.00 283.50 C577.70 284.86 578.40 288.15 579.10 290.00 C579.73 291.67 580.37 293.66 581.00 294.40 C581.83 295.38 582.67 295.41 583.50 296.30 C584.13 296.97 584.77 298.56 585.40 299.50 C586.10 300.54 586.80 302.30 587.50 302.30 C588.13 302.30 588.77 300.04 589.40 298.20 C589.93 296.65 590.47 293.95 591.00 291.30 C591.43 289.15 591.87 284.51 592.30 283.80 C592.80 282.98 593.30 282.40 593.80 282.40 C594.33 282.40 594.87 283.85 595.40 285.60 C595.83 287.02 596.27 292.81 596.70 296.30 C597.23 300.60 597.77 305.81 598.30 308.90 C598.80 311.80 599.30 314.84 599.80 315.80 C600.23 316.63 600.67 317.26 601.10 317.40 C601.63 317.58 602.17 317.70 602.70 317.70 C603.33 317.70 603.97 316.31 604.60 315.20 C605.10 314.32 605.60 313.49 606.10 311.40 C606.50 309.73 606.90 303.17 607.30 298.80 C607.73 294.07 608.17 288.99 608.60 284.00 C609.00 279.39 609.40 273.12 609.80 270.00 C610.17 267.14 610.53 263.50 610.90 263.50 C611.23 263.50 611.57 267.34 611.90 270.00 C612.30 273.19 612.70 278.88 613.10 282.60 C613.50 286.32 613.90 290.99 614.30 292.60 C614.83 294.74 615.37 296.70 615.90 296.70 C616.53 296.70 617.17 296.40 617.80 296.40 C618.43 296.40 619.07 297.84 619.70 298.30 C620.67 299.00 621.63 299.90 622.60 299.90 C623.10 299.90 623.60 297.34 624.10 295.20 C624.60 293.06 625.10 289.39 625.60 285.10 C626.03 281.38 626.47 275.33 626.90 270.00 C627.23 265.90 627.57 261.50 627.90 257.00 C628.30 251.60 628.70 244.12 629.10 240.10 C629.60 235.08 630.10 228.60 630.60 228.60 C631.17 228.60 631.73 232.33 632.30 236.30 C632.70 239.10 633.10 248.02 633.50 252.70 C633.80 256.21 634.10 258.86 634.40 262.00 C634.73 265.49 635.07 268.90 635.40 272.60 C635.93 278.52 636.47 286.30 637.00 291.40 C637.43 295.55 637.87 299.19 638.30 302.00 C638.80 305.24 639.30 308.36 639.80 310.00 C640.43 312.08 641.07 313.23 641.70 314.40 C642.53 315.94 643.37 317.36 644.20 318.20 C645.03 319.04 645.87 320.10 646.70 320.10 C647.53 320.10 648.37 319.21 649.20 318.20 C649.83 317.43 650.47 315.83 651.10 313.20 C651.57 311.26 652.03 306.10 652.50 301.00 C653.00 295.53 653.50 284.28 654.00 278.80 C654.40 274.42 654.80 269.41 655.20 268.20 C655.60 266.99 656.00 266.00 656.40 266.00 C656.73 266.00 657.07 268.01 657.40 270.00 C657.80 272.39 658.20 280.48 658.60 285.10 C659.10 290.87 659.60 296.55 660.10 301.00 C660.43 303.97 660.77 306.99 661.10 308.80 C661.73 312.24 662.37 315.93 663.00 316.30 C663.63 316.67 664.27 316.90 664.90 316.90 C665.43 316.90 665.97 316.10 666.50 316.10 C667.10 316.10 667.70 318.20 668.30 318.20 C669.07 318.20 669.83 318.20 670.60 318.20 C671.10 318.20 671.60 315.27 672.10 314.40 C672.63 313.47 673.17 312.30 673.70 312.30 C674.23 312.30 674.77 314.38 675.30 315.70 C675.80 316.93 676.30 319.26 676.80 320.10 C677.43 321.17 678.07 322.16 678.70 322.30 C679.53 322.49 680.37 322.46 681.20 322.60 C681.77 322.69 682.33 323.00 682.90 323.00 C683.33 323.00 683.77 322.33 684.20 322.00"/>
<path class="fit" stroke="#ff8412" stroke-width="1.2" d="M527.60 345.30 C528.23 344.80 528.87 344.52 529.50 343.80 C530.27 342.92 531.03 341.05 531.80 338.80 C532.30 337.33 532.80 334.78 533.30 332.50 C533.80 330.22 534.30 328.00 534.80 325.00 C535.13 323.00 535.47 319.87 535.80 317.70 C536.53 312.92 537.27 308.86 538.00 305.10 C538.53 302.36 539.07 298.81 539.60 297.60 C540.50 295.56 541.40 295.58 542.30 293.80 C542.97 292.48 543.63 290.27 544.30 287.50 C544.73 285.70 545.17 284.64 545.60 280.00 C545.70 278.93 545.80 274.78 545.90 272.70 C546.27 265.06 546.63 261.80 547.00 253.80 C547.17 250.16 547.33 244.40 547.50 240.00 C547.83 231.21 548.17 227.70 548.50 215.00 C548.60 211.19 548.70 201.11 548.80 197.00 C548.97 190.14 549.13 185.69 549.30 182.00 C549.67 173.89 550.03 166.33 550.40 163.80 C550.73 161.50 551.07 159.40 551.40 159.40 C551.83 159.40 552.27 165.93 552.70 170.10 C553.13 174.27 553.57 180.57 554.00 185.20 C554.47 190.18 554.93 196.12 555.40 199.00 C555.87 201.88 556.33 205.30 556.80 205.30 C557.20 205.30 557.60 201.94 558.00 198.80 C558.23 196.97 558.47 193.65 558.70 190.00 C558.87 187.39 559.03 183.57 559.20 180.00 C559.47 174.29 559.73 168.02 560.00 161.30 C560.20 156.26 560.40 152.46 560.60 145.00 C560.83 136.30 561.07 112.37 561.30 102.00 C561.67 85.71 562.03 74.10 562.40 65.00 C562.73 56.73 563.07 51.80 563.40 45.20 C563.80 51.80 564.20 57.36 564.60 65.00 C565.13 75.19 565.67 82.95 566.20 102.00 C566.43 110.33 566.67 132.90 566.90 145.00 C567.13 157.10 567.37 165.05 567.60 176.40 C567.70 181.26 567.80 187.09 567.90 192.00 C568.07 200.18 568.23 209.71 568.40 215.00 C568.80 227.68 569.20 231.55 569.60 242.00 C569.73 245.48 569.87 249.59 570.00 253.80 C570.23 261.18 570.47 273.37 570.70 278.00 C571.10 285.94 571.50 290.71 571.90 293.80 C572.63 299.46 573.37 303.36 574.10 305.10 C574.93 307.08 575.77 307.27 576.60 308.90 C577.43 310.53 578.27 314.09 579.10 315.80 C579.93 317.51 580.77 319.30 581.60 319.90 C582.23 320.35 582.87 320.34 583.50 320.80 C584.27 321.35 585.03 323.69 585.80 324.60 C586.37 325.27 586.93 326.20 587.50 326.20 C588.13 326.20 588.77 324.31 589.40 322.70 C589.93 321.35 590.47 318.75 591.00 316.40 C591.50 314.19 592.00 310.21 592.50 308.90 C592.97 307.68 593.43 306.40 593.90 306.40 C594.40 306.40 594.90 309.05 595.40 311.40 C595.83 313.43 596.27 318.15 596.70 321.40 C597.00 323.65 597.30 326.05 597.60 328.00 C597.93 330.16 598.27 332.16 598.60 333.80 C599.10 336.26 599.60 339.20 600.10 340.10 C600.73 341.23 601.37 342.20 602.00 342.20 C602.73 342.20 603.47 341.33 604.20 340.40 C604.73 339.72 605.27 338.22 605.80 336.30 C606.23 334.74 606.67 332.17 607.10 328.80 C607.47 325.94 607.83 320.68 608.20 316.00 C608.60 310.90 609.00 303.95 609.40 299.00 C609.67 295.70 609.93 291.61 610.20 290.10 C610.43 288.78 610.67 287.40 610.90 287.40 C611.23 287.40 611.57 290.08 611.90 292.60 C612.17 294.61 612.43 299.99 612.70 303.00 C612.93 305.63 613.17 308.33 613.40 310.00 C613.83 313.10 614.27 315.70 614.70 316.90 C615.33 318.65 615.97 320.30 616.60 320.30 C617.10 320.30 617.60 319.80 618.10 319.80 C618.63 319.80 619.17 321.71 619.70 322.00 C620.53 322.45 621.37 322.80 622.20 322.80 C622.77 322.80 623.33 322.16 623.90 321.30 C624.40 320.54 624.90 317.46 625.40 313.80 C625.77 311.12 626.13 305.01 626.50 300.00 C626.97 293.62 627.43 284.61 627.90 278.80 C628.43 272.16 628.97 265.60 629.50 262.00 C630.00 258.63 630.50 254.50 631.00 254.50 C631.53 254.50 632.07 258.54 632.60 262.00 C633.13 265.46 633.67 272.13 634.20 278.80 C634.67 284.63 635.13 294.18 635.60 300.20 C635.97 304.93 636.33 309.06 636.70 312.60 C637.20 317.43 637.70 321.78 638.20 325.10 C638.73 328.64 639.27 332.01 639.80 333.90 C640.63 336.86 641.47 338.81 642.30 340.20 C643.13 341.59 643.97 342.75 644.80 343.30 C645.53 343.78 646.27 344.30 647.00 344.30 C647.67 344.30 648.33 343.28 649.00 342.40 C649.57 341.66 650.13 340.57 650.70 338.90 C651.27 337.23 651.83 333.95 652.40 330.10 C652.80 327.38 653.20 323.89 653.60 318.80 C653.90 314.98 654.20 305.93 654.50 302.00 C654.83 297.64 655.17 293.06 655.50 292.00 C655.83 290.94 656.17 290.10 656.50 290.10 C656.83 290.10 657.17 292.00 657.50 293.90 C657.80 295.61 658.10 300.38 658.40 303.90 C658.70 307.42 659.00 311.74 659.30 315.10 C659.80 320.70 660.30 326.54 660.80 330.10 C661.33 333.90 661.87 337.64 662.40 338.90 C663.03 340.40 663.67 341.70 664.30 341.70 C665.00 341.70 665.70 339.90 666.40 339.90 C667.03 339.90 667.67 341.80 668.30 342.10 C668.97 342.42 669.63 342.70 670.30 342.70 C670.90 342.70 671.50 339.22 672.10 338.30 C672.73 337.33 673.37 336.20 674.00 336.20 C674.53 336.20 675.07 337.70 675.60 338.90 C676.10 340.02 676.60 343.03 677.10 343.90 C677.87 345.24 678.63 346.04 679.40 346.50 C680.23 347.00 681.07 347.50 681.90 347.50 C682.67 347.50 683.43 346.63 684.20 346.20"/>
<path class="residual" stroke="#1a1a1a" stroke-width="1.1" d="M527.6 363.0 L530.1 363.7 L532.6 363.3 L535.2 363.7 L538.3 363.7 L540.8 362.7 L542.7 363.7 L544.6 363.3 L547.1 365.4 L548.3 363.3 L549.6 360.5 L551.5 362.0 L553.4 363.7 L555.2 363.3 L557.1 365.4 L559.0 362.0 L560.3 363.3 L561.9 360.8 L563.7 360.8 L564.9 363.9 L565.9 365.8 L568.4 364.9 L570.3 365.2 L572.0 362.4 L573.7 363.3 L576.0 364.6 L577.9 365.4 L579.7 363.9 L582.2 363.3 L584.8 363.0 L587.9 362.7 L590.4 363.3 L592.9 364.6 L595.4 362.4 L597.9 362.7 L599.2 363.0 L601.5 363.6 L603.4 363.2 L605.3 364.1 L606.5 363.0 L607.8 362.4 L609.0 364.5 L611.5 363.6 L614.1 362.6 L616.6 363.2 L619.1 362.6 L621.0 363.0 L622.2 362.0 L624.1 363.6 L625.6 362.6 L627.2 364.1 L629.1 365.1 L631.0 363.2 L632.6 364.5 L634.8 363.6 L636.7 363.0 L638.5 362.4 L640.7 361.3 L642.3 363.2 L644.2 363.6 L646.5 362.4 L648.0 363.2 L649.5 362.4 L651.7 363.9 L654.2 363.6 L656.8 363.0 L659.3 362.9 L661.8 363.0 L664.3 363.2 L666.8 362.9 L669.3 363.0 L671.8 362.6 L675.0 362.0 L677.5 362.6 L680.0 363.0 L682.5 363.0 L684.1 363.2"/>
</g>
</g>
<g fill="none" stroke="#262626" stroke-width="1.1">
<rect x="17.45" y="0.5" width="157.6" height="386.9"/>
<line x1="30.45" y1="387.4" x2="30.45" y2="383.6"/>
<line x1="63.43" y1="387.4" x2="63.43" y2="385.2"/>
<line x1="96.41" y1="387.4" x2="96.41" y2="383.6"/>
<line x1="129.39" y1="387.4" x2="129.39" y2="385.2"/>
<line x1="162.37" y1="387.4" x2="162.37" y2="383.6"/>
<rect x="187.2" y="0.5" width="157.6" height="386.9"/>
<line x1="200.21" y1="387.4" x2="200.21" y2="383.6"/>
<line x1="233.19" y1="387.4" x2="233.19" y2="385.2"/>
<line x1="266.17" y1="387.4" x2="266.17" y2="383.6"/>
<line x1="299.15" y1="387.4" x2="299.15" y2="385.2"/>
<line x1="332.13" y1="387.4" x2="332.13" y2="383.6"/>
<rect x="357.15" y="0.5" width="157.4" height="386.9"/>
<line x1="369.97" y1="387.4" x2="369.97" y2="383.6"/>
<line x1="402.95" y1="387.4" x2="402.95" y2="385.2"/>
<line x1="435.93" y1="387.4" x2="435.93" y2="383.6"/>
<line x1="468.91" y1="387.4" x2="468.91" y2="385.2"/>
<line x1="501.89" y1="387.4" x2="501.89" y2="383.6"/>
<rect x="527.05" y="0.5" width="157.4" height="386.9"/>
<line x1="539.73" y1="387.4" x2="539.73" y2="383.6"/>
<line x1="572.71" y1="387.4" x2="572.71" y2="385.2"/>
<line x1="605.69" y1="387.4" x2="605.69" y2="383.6"/>
<line x1="638.67" y1="387.4" x2="638.67" y2="385.2"/>
<line x1="671.65" y1="387.4" x2="671.65" y2="383.6"/>
</g>
<g font-family="'Liberation Sans', Arial, Helvetica, sans-serif" fill="#111" stroke="#111" stroke-width="0.15">
<text x="20.8" y="20.0" font-size="19">a</text>
<text x="190.5" y="20.0" font-size="19">b</text>
<text x="360.4" y="20.0" font-size="19">c</text>
<text x="530.3" y="20.0" font-size="19">d</text>
<text x="31.1" y="401.3" font-size="12" text-anchor="middle">1700</text>
<text x="97.0" y="401.3" font-size="12" text-anchor="middle">1450</text>
<text x="163.0" y="401.3" font-size="12" text-anchor="middle">1200</text>
<text x="200.8" y="401.3" font-size="12" text-anchor="middle">1700</text>
<text x="266.8" y="401.3" font-size="12" text-anchor="middle">1450</text>
<text x="332.7" y="401.3" font-size="12" text-anchor="middle">1200</text>
<text x="370.6" y="401.3" font-size="12" text-anchor="middle">1700</text>
<text x="436.5" y="401.3" font-size="12" text-anchor="middle">1450</text>
<text x="502.5" y="401.3" font-size="12" text-anchor="middle">1200</text>
<text x="540.3" y="401.3" font-size="12" text-anchor="middle">1700</text>
<text x="606.3" y="401.3" font-size="12" text-anchor="middle">1450</text>
<text x="672.2" y="401.3" font-size="12" text-anchor="middle">1200</text>
<text x="350" y="417.9" font-size="15" text-anchor="middle">Wavenumber / cm<tspan font-size="9" dy="-6.5">-1</tspan></text>
<text transform="translate(11.2 193.9) rotate(-90) scale(1.035 1)" font-size="14.8" text-anchor="middle">Raman Intensity</text>
</g>
</svg>
</body>
</html>
